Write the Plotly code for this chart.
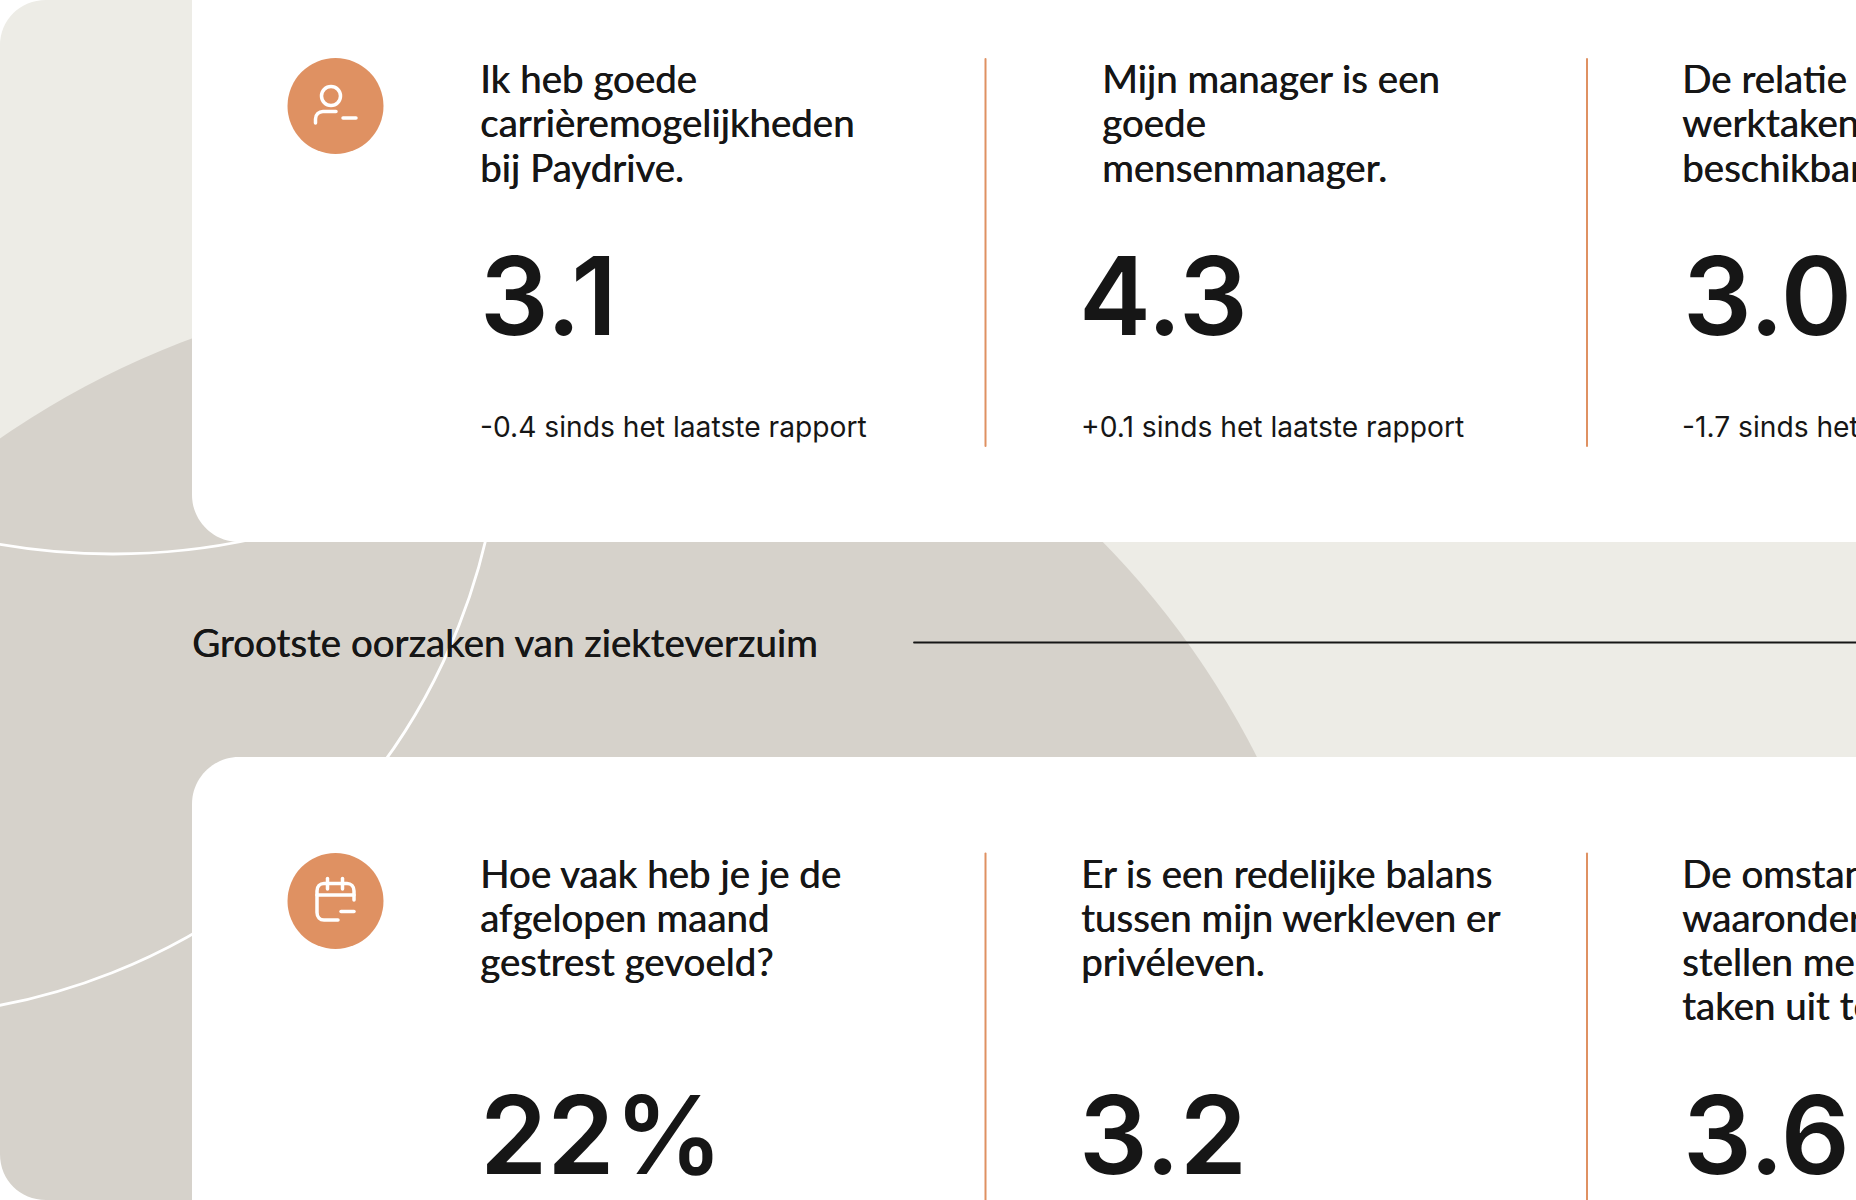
import plotly.graph_objects as go

# chart values
row1_questions = [
    ["Ik heb goede", "carrièremogelijkheden", "bij Paydrive."],
    ["Mijn manager is een", "goede", "mensenmanager."],
    ["De relatie tussen", "werktaken en", "beschikbare"],
]
row1_values = ["3.1", "4.3", "3.0"]
row1_deltas = ["-0.4 sinds het laatste rapport",
               "+0.1 sinds het laatste rapport",
               "-1.7 sinds het laatste rapport"]
row2_questions = [
    ["Hoe vaak heb je je de", "afgelopen maand", "gestrest gevoeld?"],
    ["Er is een redelijke balans", "tussen mijn werkleven er", "privéleven."],
    ["De omstandigheden", "waaronder ik werk", "stellen me in staat", "taken uit te voeren"],
]
row2_values = ["22%", "3.2", "3.6"]
section_title = "Grootste oorzaken van ziekteverzuim"

# colors and fonts
LIGHT = "#EDECE6"
DARK = "#D6D2CB"
ORANGE = "#DF9162"
INK = "#161616"
HEAD_FONT = "Lato"
NUM_FONT = "Inter"
HEAD_SIZE = 38.5
NUM_SIZE = 108
DELTA_SIZE = 28.2
HEAD_SHADOW = "0.5px 0 0 #161616"

# column positions in page pixels
col_x = [480, 1081, 1682]
head_x_row1 = [480, 1102, 1682]
num_x = [480, 1079, 1683]


def base(y, size):
    # scatter text in "middle" position sits 0.3em above its baseline
    return y - 0.3 * size


def card(x0, y0, x1, y1, r):
    return (f"M{x0},{y0 + r} C{x0},{y0 + r * 0.45} {x0 + r * 0.45},{y0} {x0 + r},{y0} "
            f"L{x1},{y0} L{x1},{y1 - r} L{x1},{y1} L{x0 + r},{y1} "
            f"C{x0 + r * 0.45},{y1} {x0},{y1 - r * 0.45} {x0},{y1 - r} Z")


def ring(cx, cy, r, **kw):
    return dict(type="circle", x0=cx - r, x1=cx + r, y0=cy - r, y1=cy + r, layer="below", **kw)


white_line = dict(color="white", width=2.8)
no_line = dict(width=0)

shapes = [
    # background panel with its two dark/white circles
    dict(type="rect", x0=0, x1=1900, y0=-10, y1=1210, fillcolor=LIGHT, line=no_line, layer="below"),
    ring(490, 1144, 859, fillcolor=DARK, line=no_line),
    ring(113, -106, 660, line=white_line),
    ring(-115, 399, 617, line=white_line),
    # page corners of the panel
    dict(type="path", path="M0,0 L46,0 C20,0 0,20 0,46 Z", fillcolor="white", line=no_line, layer="below"),
    dict(type="path", path="M0,1200 L46,1200 C20,1200 0,1180 0,1154 Z", fillcolor="white", line=no_line, layer="below"),
    # white cards
    dict(type="path", path=card(192, -80, 1900, 542, 47), fillcolor="white", line=no_line, layer="below"),
    dict(type="path", path=card(192, 757, 1900, 1300, 47), fillcolor="white", line=no_line, layer="below"),
    # section rule
    dict(type="line", x0=914, x1=1856, y0=642.5, y1=642.5, line=dict(color=INK, width=1.8), layer="below"),
]

# orange dividers
for x in [985.5, 1587]:
    shapes.append(dict(type="line", x0=x, x1=x, y0=59, y1=446, line=dict(color=ORANGE, width=2), layer="below"))
    shapes.append(dict(type="line", x0=x, x1=x, y0=853.5, y1=1200, line=dict(color=ORANGE, width=2), layer="below"))

# icon badges
icon_line = dict(color="white", width=3.5)
for cy in [106, 901]:
    shapes.append(ring(335.5, cy, 48, fillcolor=ORANGE, line=no_line))
shapes += [
    ring(331, 96, 9.5, line=icon_line),
    dict(type="path", path="M315.5,123 L315.5,119 C315.5,114.5 319,111.5 323,111.5 L336,111.5",
         line=icon_line, layer="below"),
    dict(type="line", x0=343, x1=356, y0=118, y1=118, line=icon_line, layer="below"),
    dict(type="path", path="M354,900 L354,891 C354,886.5 351,883.5 347,883.5 L324,883.5 "
                           "C320,883.5 317,886.5 317,891 L317,912.5 C317,917 320,920 324,920 L338,920",
         line=icon_line, layer="below"),
    dict(type="line", x0=317, x1=354, y0=895, y1=895, line=icon_line, layer="below"),
    dict(type="line", x0=327.5, x1=327.5, y0=878.5, y1=889, line=icon_line, layer="below"),
    dict(type="line", x0=342.5, x1=342.5, y0=878.5, y1=889, line=icon_line, layer="below"),
    dict(type="line", x0=341, x1=354, y0=911.5, y1=911.5, line=icon_line, layer="below"),
]

# question lines, one text point per line
head_x, head_y, head_text = [], [], []
for col, lines in enumerate(row1_questions):
    for i, line in enumerate(lines):
        head_x.append(head_x_row1[col])
        head_y.append(base(95 + i * 44.3, HEAD_SIZE))
        head_text.append(line)
for col, lines in enumerate(row2_questions):
    for i, line in enumerate(lines):
        head_x.append(col_x[col])
        head_y.append(base(889.5 + i * 44.3, HEAD_SIZE))
        head_text.append(line)

fig = go.Figure()
fig.add_trace(go.Scatter(x=head_x, y=head_y, text=head_text, mode="text", textposition="middle right",
                         textfont=dict(family=HEAD_FONT, size=HEAD_SIZE, color=INK, shadow=HEAD_SHADOW),
                         hoverinfo="skip"))
fig.add_trace(go.Scatter(x=num_x + num_x, y=[base(340, NUM_SIZE)] * 3 + [base(1179, NUM_SIZE)] * 3,
                         text=row1_values + row2_values, mode="text", textposition="middle right",
                         textfont=dict(family=NUM_FONT, size=NUM_SIZE, color=INK, weight=600),
                         hoverinfo="skip"))
fig.add_trace(go.Scatter(x=col_x, y=[base(438.5, DELTA_SIZE)] * 3, text=row1_deltas,
                         mode="text", textposition="middle right",
                         textfont=dict(family=NUM_FONT, size=DELTA_SIZE, color=INK, weight=400),
                         hoverinfo="skip"))
fig.add_trace(go.Scatter(x=[192], y=[base(659, HEAD_SIZE)], text=[section_title],
                         mode="text", textposition="middle right",
                         textfont=dict(family=HEAD_FONT, size=HEAD_SIZE, color=INK, shadow=HEAD_SHADOW),
                         hoverinfo="skip"))

fig.update_layout(
    width=1856, height=1200, autosize=False,
    margin={'l': 0, 't': 0, 'b': 0, 'r': 0, 'pad': 0},
    paper_bgcolor="white", plot_bgcolor="white",
    showlegend=False, shapes=shapes,
    xaxis=dict(range=[0, 1856], visible=False, fixedrange=True),
    yaxis=dict(range=[1200, 0], visible=False, fixedrange=True),
)

# page margin off, round ends on the icon strokes
page_js = """
document.body.style.margin = '0';
document.body.style.overflow = 'hidden';
document.querySelectorAll('.shapelayer path').forEach(function (p) { p.style.strokeLinecap = 'round'; });
"""
fig.write_html("out.html", post_script=page_js, config={'displayModeBar': False})
